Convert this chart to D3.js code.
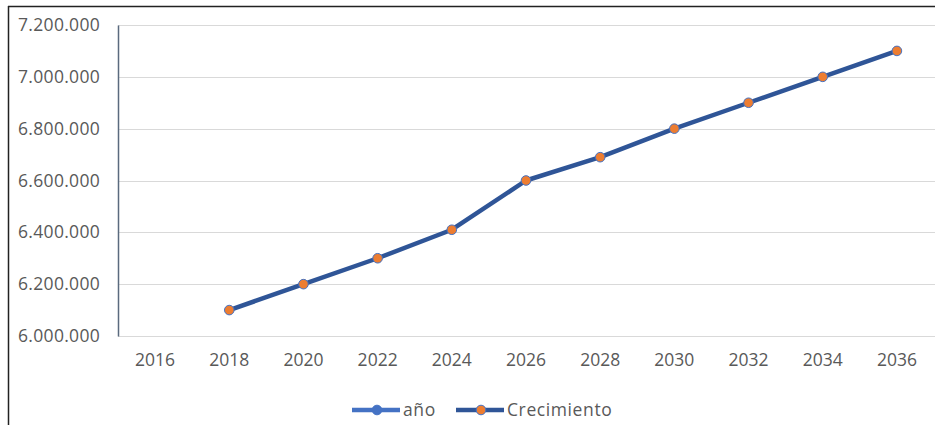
<!DOCTYPE html>
<html><head><meta charset="utf-8">
<script src="https://cdn.jsdelivr.net/npm/d3@7"></script>
<style>
html,body{margin:0;padding:0;background:#fff;}
svg{display:block;}
</style></head>
<body>
<svg id="c" width="935" height="425"></svg>
<script>
const years = [2016,2018,2020,2022,2024,2026,2028,2030,2032,2034,2036];
const anioValues = [2016,2018,2020,2022,2024,2026,2028,2030,2032,2034,2036];
const crecimiento = [null,6100000,6200000,6300000,6410000,6600000,6690000,6800000,6900000,7000000,7100000];
const yTicks = [6000000,6200000,6400000,6600000,6800000,7000000,7200000];
const seriesNames = ["año","Crecimiento"];

(function(){
const svg = d3.select("#c");
const font = "'Open Sans', 'Noto Sans', sans-serif";
const textColor = "#595959";

// outer frame
svg.append("line").attr("x1",8.5).attr("x2",8.5).attr("y1",6).attr("y2",425).attr("stroke","#222").attr("stroke-width",1.5);
svg.append("line").attr("x1",8).attr("x2",935).attr("y1",6.5).attr("y2",6.5).attr("stroke","#222").attr("stroke-width",1.5);

const pL = 118, pR = 934, pT = 25, pB = 336;
const x = d3.scaleBand().domain(years).range([pL,pR]);
const y = d3.scaleLinear().domain([6000000,7200000]).range([pB,pT]);

// gridlines
svg.append("g").selectAll("line").data(yTicks).join("line")
  .attr("x1",pL).attr("x2",935)
  .attr("y1",d=>Math.round(y(d))+0.5).attr("y2",d=>Math.round(y(d))+0.5)
  .attr("stroke","#d9d9d9").attr("stroke-width",1.2);

// y axis
const fmt = d => d3.format(",")(d).replace(/,/g,".");
const yAxis = svg.append("g").attr("transform",`translate(${pL},0)`)
  .call(d3.axisLeft(y).tickValues(yTicks).tickFormat(fmt).tickSize(0).tickPadding(18));
yAxis.select(".domain").attr("stroke","#5a6a7e").attr("stroke-width",1.5);
yAxis.selectAll("text").attr("font-family",font).attr("font-size","17.5px").attr("letter-spacing","0.3px").attr("fill",textColor);

// x axis
const xAxis = svg.append("g").attr("transform",`translate(0,${pB})`)
  .call(d3.axisBottom(x).tickSize(0).tickPadding(18));
xAxis.select(".domain").remove();
xAxis.selectAll("text").attr("font-family",font).attr("font-size","17.5px").attr("fill",textColor);

// clip
svg.append("clipPath").attr("id","plotclip").append("rect")
  .attr("x",pL).attr("y",pT-10).attr("width",pR-pL+10).attr("height",pB-pT+10);

const cx = d => x(d) + x.bandwidth()/2;

// año series (out of range; clipped)
const anioData = years.map((yr,i)=>({yr, v: anioValues[i]}));
svg.append("path").attr("clip-path","url(#plotclip)")
  .datum(anioData)
  .attr("d", d3.line().x(d=>cx(d.yr)).y(d=>y(d.v)))
  .attr("fill","none").attr("stroke","#4472c4").attr("stroke-width",4);

// crecimiento series
const cData = years.map((yr,i)=>({yr, v: crecimiento[i]})).filter(d=>d.v!=null);
svg.append("path").datum(cData)
  .attr("d", d3.line().x(d=>cx(d.yr)).y(d=>y(d.v)))
  .attr("fill","none").attr("stroke","#2f5597").attr("stroke-width",4.5).attr("stroke-linejoin","round");
svg.append("g").selectAll("circle").data(cData).join("circle")
  .attr("cx",d=>cx(d.yr)).attr("cy",d=>y(d.v)).attr("r",4.8)
  .attr("fill","#ed7d31").attr("stroke","#4472c4").attr("stroke-width",1);

// legend
const leg = svg.append("g").attr("font-family",font).attr("font-size","17.5px").attr("letter-spacing","0.6px").attr("fill",textColor);
const legItems = [
  {name: seriesNames[0], x0: 352, line: "#4472c4", mfill: "#4472c4", mstroke:"#4472c4"},
  {name: seriesNames[1], x0: 456, line: "#2f5597", mfill: "#ed7d31", mstroke:"#4472c4"}
];
legItems.forEach(it=>{
  leg.append("line").attr("x1",it.x0).attr("x2",it.x0+48).attr("y1",410).attr("y2",410)
    .attr("stroke",it.line).attr("stroke-width",4.5);
  leg.append("circle").attr("cx",it.x0+25).attr("cy",410).attr("r",4.8)
    .attr("fill",it.mfill).attr("stroke",it.mstroke).attr("stroke-width",1);
  leg.append("text").attr("x",it.x0+51).attr("y",410).attr("dy","0.35em").text(it.name);
});
})();
</script>
</body></html>
